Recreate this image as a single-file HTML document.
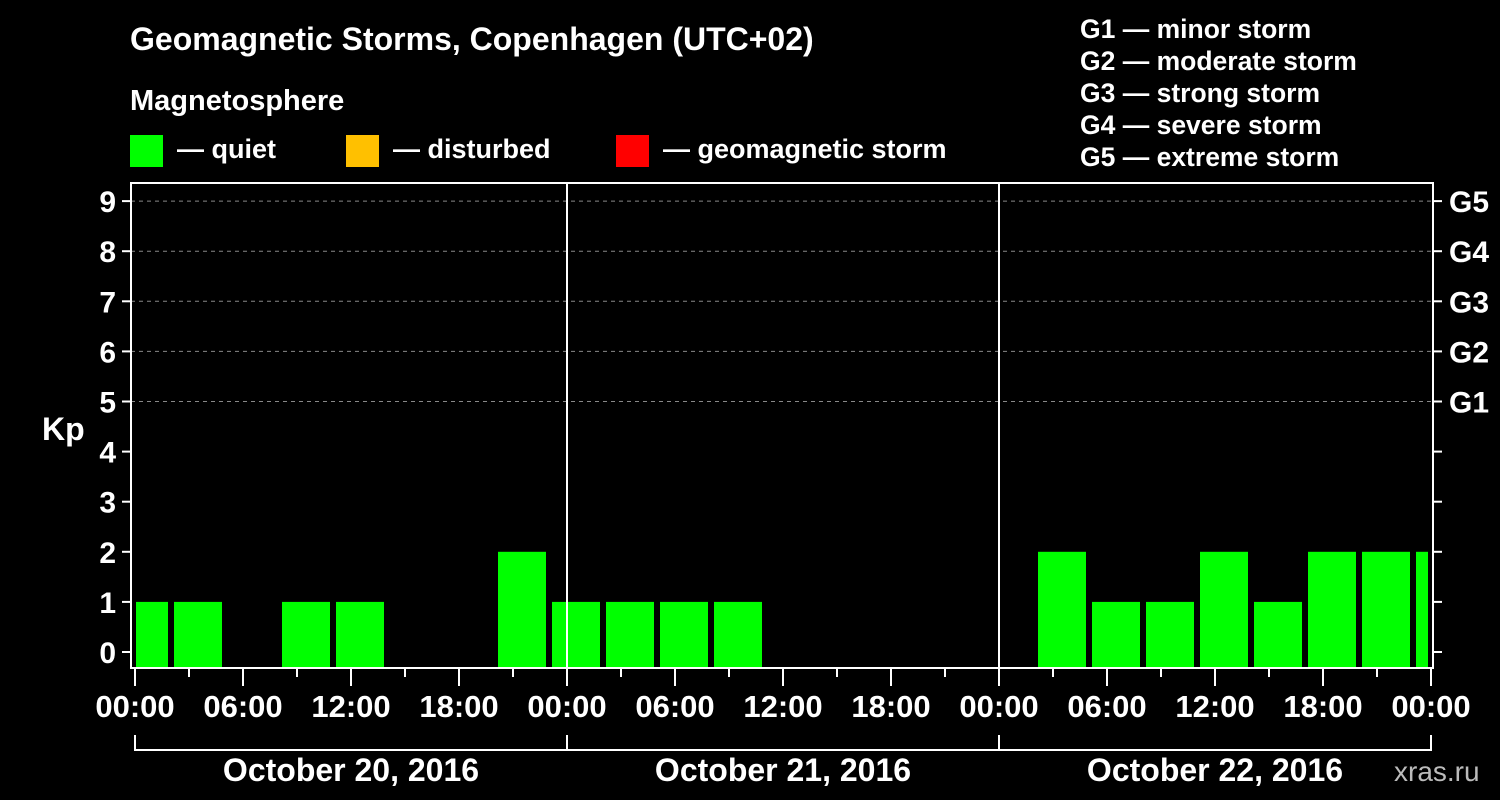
<!DOCTYPE html>
<html><head><meta charset="utf-8"><style>
body{margin:0;background:#000;width:1500px;height:800px;overflow:hidden}
svg{display:block}
text{font-family:"Liberation Sans",Arial,sans-serif;font-weight:bold;fill:#fff}
</style></head><body>
<svg id="chart" width="1500" height="800">
<text x="130" y="50" font-size="32">Geomagnetic Storms, Copenhagen (UTC+02)</text>
<text x="130" y="110" font-size="29">Magnetosphere</text>
<g>
<rect x="130" y="135" width="33" height="32" fill="#00ff00"/>
<text x="177" y="158" font-size="27">— quiet</text>
<rect x="346" y="135" width="33" height="32" fill="#ffc000"/>
<text x="393" y="158" font-size="27">— disturbed</text>
<rect x="616" y="135" width="33" height="32" fill="#ff0000"/>
<text x="663" y="158" font-size="27">— geomagnetic storm</text>
</g>
<g font-size="26.5">
<text x="1080" y="38">G1 — minor storm</text>
<text x="1080" y="70">G2 — moderate storm</text>
<text x="1080" y="102">G3 — strong storm</text>
<text x="1080" y="134">G4 — severe storm</text>
<text x="1080" y="166">G5 — extreme storm</text>
</g>
<text x="42" y="440" font-size="32">Kp</text>
<text x="1394" y="781" font-size="28" style="fill:#bbb;font-weight:normal">xras.ru</text>
<g id="grid"></g><g id="bars"></g><g id="axes"></g>
</svg>
<script>
const kpValues=[1,1,0,1,1,0,0,2, 1,1,1,1,0,0,0,0, 0,2,1,1,2,1,2,2, 2];
const dayLabels=["October 20, 2016","October 21, 2016","October 22, 2016"];
const hourLabels=["00:00","06:00","12:00","18:00"];
const gLabels=["G1","G2","G3","G4","G5"];
const yTicks=[0,1,2,3,4,5,6,7,8,9];
const NS="http://www.w3.org/2000/svg";
const X0=135,PXH=18,Y0=652,PXK=50.1,L=131,R=1433,T=183,B=668;
const xs=h=>X0+h*PXH, ys=k=>Y0-k*PXK;
function mk(p,tag,a){const e=document.createElementNS(NS,tag);for(const k in a)e.setAttribute(k,a[k]);document.getElementById(p).appendChild(e);return e;}
for(let k=5;k<=9;k++){const e=mk('grid','line',{x1:L,x2:R,y1:ys(k),y2:ys(k),stroke:'#888','stroke-dasharray':'4,4','stroke-width':1});

}
kpValues.forEach((v,i)=>{if(v<=0)return;const c=xs(0.5+3*i);let x1=Math.max(c-24,L+5),x2=Math.min(c+24,R-5);
const e=mk('bars','rect',{x:x1,y:ys(v),width:x2-x1,height:B-ys(v),fill:'#00ff00'});

});
let f=mk('axes','rect',{x:L,y:T,width:R-L,height:B-T,fill:'none',stroke:'#fff','stroke-width':2});


for(let d=1;d<3;d++){const e=mk('axes','line',{x1:xs(24*d),x2:xs(24*d),y1:T,y2:B,stroke:'#fff','stroke-width':2});

}
yTicks.forEach(k=>{const y=ys(k);
const a=mk('axes','line',{x1:122,x2:L,y1:y,y2:y,stroke:'#fff','stroke-width':2});


const b=mk('axes','line',{x1:R,x2:1442,y1:y,y2:y,stroke:'#fff','stroke-width':2});


const t=mk('axes','text',{x:116,y:y+11,'font-size':30,'text-anchor':'end'});t.textContent=k;


if(k>=5){const g=mk('axes','text',{x:1449,y:y+11,'font-size':30});g.textContent=gLabels[k-5];

}});
for(let h=0;h<=72;h+=3){const maj=h%6==0;const e=mk('axes','line',{x1:xs(h),x2:xs(h),y1:B+1,y2:maj?686:677,stroke:'#fff','stroke-width':2});


if(maj){const t=mk('axes','text',{x:xs(h),y:717,'font-size':31,'text-anchor':'middle'});t.textContent=hourLabels[(h/6)%4];

}}
let br=mk('axes','line',{x1:xs(0),x2:xs(72),y1:750,y2:750,stroke:'#fff','stroke-width':2});


for(let d=0;d<=3;d++){const e=mk('axes','line',{x1:xs(24*d),x2:xs(24*d),y1:735,y2:751,stroke:'#fff','stroke-width':2});

}
dayLabels.forEach((s,d)=>{const t=mk('axes','text',{x:xs(24*d+12),y:781,'font-size':32,'text-anchor':'middle'});t.textContent=s;

});
</script>
</body></html>
